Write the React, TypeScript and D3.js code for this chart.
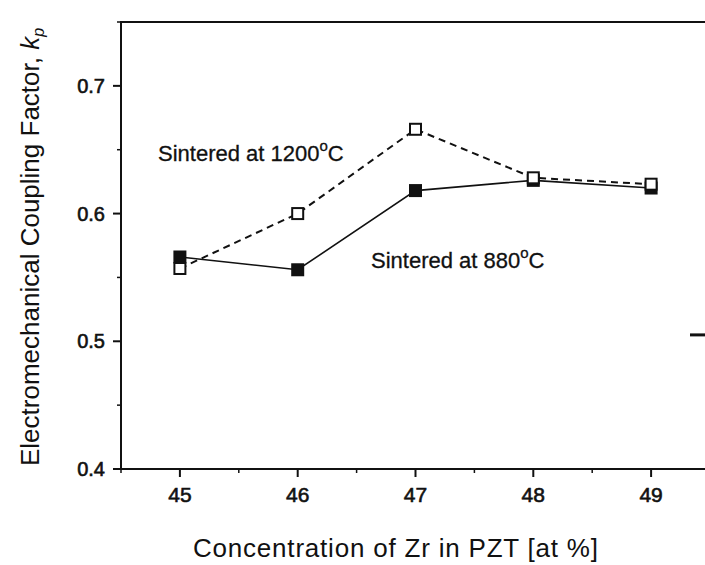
import React from "react";
import * as d3 from "d3";

const zr = [45, 46, 47, 48, 49];
const k1200 = [0.557, 0.6, 0.666, 0.628, 0.623];
const k880 = [0.566, 0.556, 0.618, 0.626, 0.62];
const xTicks = [45, 46, 47, 48, 49];
const xMinor = [44.5, 45.5, 46.5, 47.5, 48.5, 49.5];
const yTicks = [0.4, 0.5, 0.6, 0.7];
const yMinor = [0.45, 0.55, 0.65, 0.75];
const rightTicks = [0.505];

const W = 705, H = 565;
const L = 121, R = 710, T = 22, B = 469;

export default function App() {
  const x = d3.scaleLinear().domain([44.5, 49.5]).range([L, R]);
  const y = d3.scaleLinear().domain([0.4, 0.75]).range([B, T]);
  const line = d3.line<[number, number]>().x(d => x(d[0])).y(d => y(d[1]));
  const d1200 = zr.map((v, i) => [v, k1200[i]] as [number, number]);
  const d880 = zr.map((v, i) => [v, k880[i]] as [number, number]);
  const font = "'Liberation Sans', Arial, sans-serif";
  const s = 13;
  return (
    <svg width={W} height={H} style={{ position: "absolute", left: 0, top: 0, background: "#fff" }} fontFamily={font}>
      <rect x={L} y={T} width={R - L} height={B - T} fill="none" stroke="#111" strokeWidth={2} />
      {xTicks.map(t => (
        <g key={"x" + t}>
          <line x1={x(t)} x2={x(t)} y1={B} y2={B + 8} stroke="#111" strokeWidth={2} />
          <text x={x(t)} y={B + 33} textAnchor="middle" fontSize={21} stroke="#111" strokeWidth={0.6} fill="#111">{t}</text>
        </g>
      ))}
      {xMinor.map(t => (
        <line key={"xm" + t} x1={x(t)} x2={x(t)} y1={B} y2={B + 4} stroke="#111" strokeWidth={1.5} />
      ))}
      {yTicks.map(t => (
        <g key={"y" + t}>
          <line x1={L} x2={L - 8} y1={y(t)} y2={y(t)} stroke="#111" strokeWidth={2} />
          <text x={L - 16} y={y(t) + 7} textAnchor="end" fontSize={20} stroke="#111" strokeWidth={0.6} fill="#111">{t.toFixed(1)}</text>
        </g>
      ))}
      {rightTicks.map(t => (
        <line key={"r" + t} x1={R} x2={R - 20} y1={y(t)} y2={y(t)} stroke="#111" strokeWidth={3} />
      ))}
      {yMinor.map(t => (
        <line key={"ym" + t} x1={L} x2={L - 4} y1={y(t)} y2={y(t)} stroke="#111" strokeWidth={1.5} />
      ))}
      <path d={line(d1200) || ""} fill="none" stroke="#111" strokeWidth={2} strokeDasharray="7,5" />
      <path d={line(d880) || ""} fill="none" stroke="#111" strokeWidth={1.6} />
      {d880.map((p, i) => (
        <rect key={"f" + i} x={x(p[0]) - s / 2} y={y(p[1]) - s / 2} width={s} height={s} fill="#111" />
      ))}
      {d1200.map((p, i) => (
        <rect key={"o" + i} x={x(p[0]) - (s - 2) / 2} y={y(p[1]) - (s - 2) / 2} width={s - 2} height={s - 2} fill="#fff" stroke="#111" strokeWidth={2} />
      ))}
      <text x={158} y={161} fontSize={22} fill="#111" stroke="#111" strokeWidth={0.3}>Sintered at 1200<tspan dy={-10} fontSize={15}>o</tspan><tspan dy={10}>C</tspan></text>
      <text x={371} y={268} fontSize={22} fill="#111" stroke="#111" strokeWidth={0.3}>Sintered at 880<tspan dy={-10} fontSize={15}>o</tspan><tspan dy={10}>C</tspan></text>
      <text x={193} y={557} fontSize={26} fill="#111" textLength={405} lengthAdjust="spacing">Concentration of Zr in PZT [at %]</text>
      <text transform={`translate(39,466) rotate(-90)`} textAnchor="start" fontSize={26} fill="#111">
        Electromechanical Coupling Factor, <tspan fontStyle="italic">k</tspan><tspan fontStyle="italic" fontSize={16} dy={5}>p</tspan>
      </text>
    </svg>
  );
}
